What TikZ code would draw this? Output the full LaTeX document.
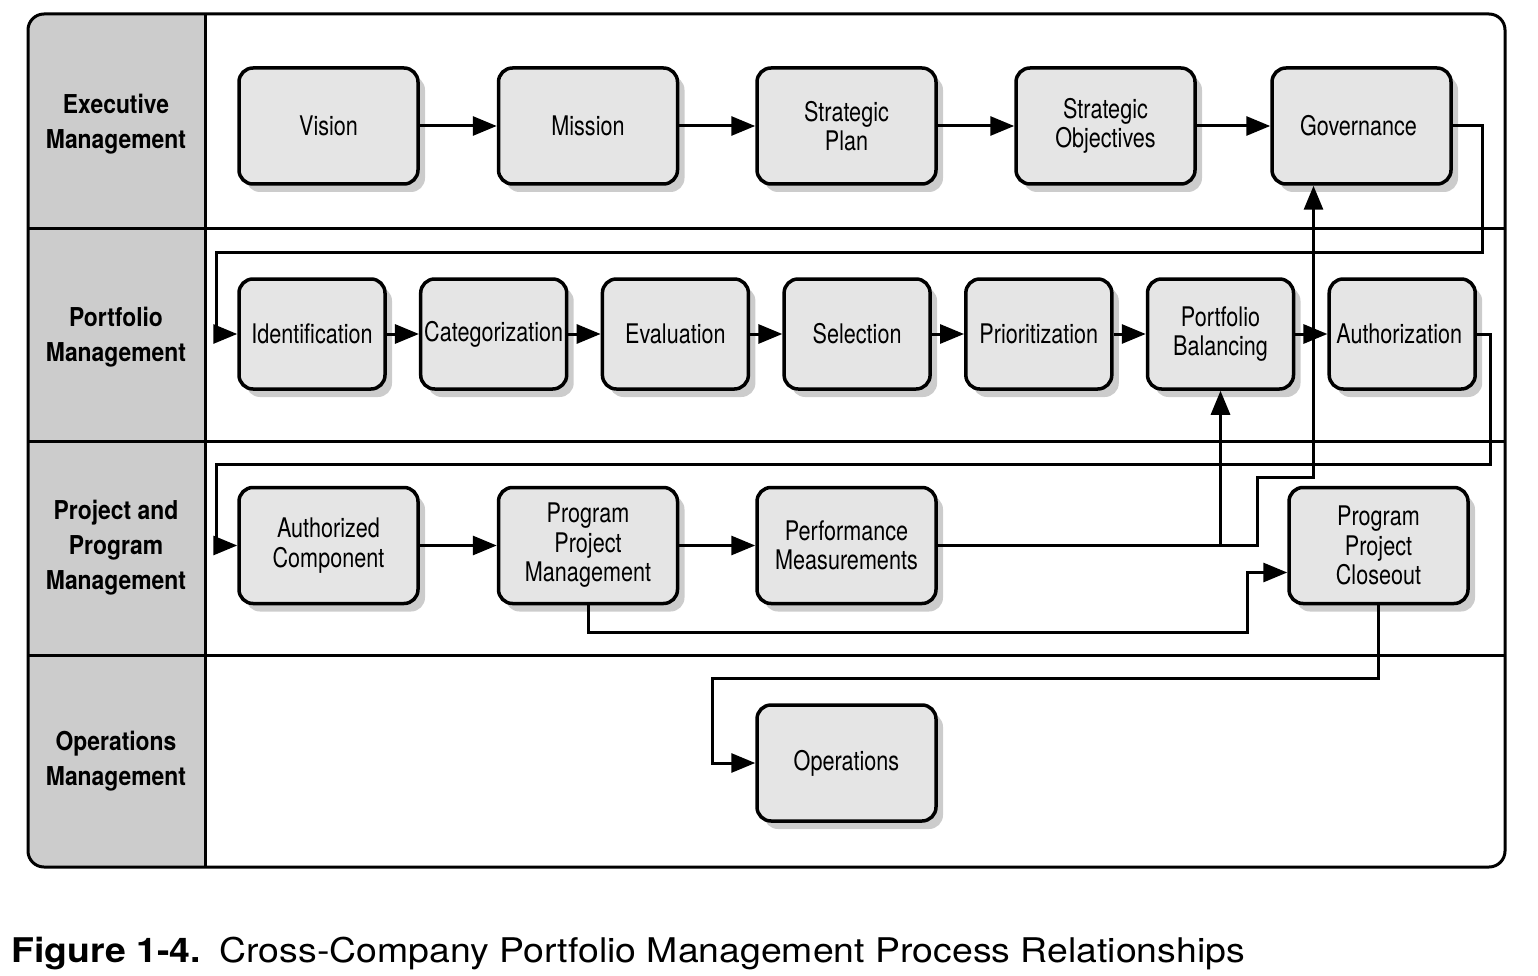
\documentclass[tikz,border=0pt]{standalone}
\usepackage{fontspec}
\setmainfont{TeX Gyre Heros}[FakeStretch=0.8]
\newfontfamily\lanefont{TeX Gyre Heros}[FakeStretch=0.88]
\newfontfamily\captionfont{TeX Gyre Heros}[FakeStretch=1.1]
\usepackage{tikz}
\usetikzlibrary{arrows.meta}
\usetikzlibrary{shadows}
\usetikzlibrary{positioning}
\definecolor{boxgrey}{gray}{0.9}
\definecolor{lanegrey}{gray}{0.8}
\definecolor{shadegrey}{gray}{0.8}
\tikzset{basic box/.style={draw,
                           line width=3.5pt,
                           rounded corners=14pt,
                           fill=boxgrey,
                           align=center,
                           font=\fontsize{27}{29.5}\selectfont,
                           drop shadow={shadow xshift=7pt,shadow yshift=-8pt,fill=shadegrey,opacity=1}}}
\tikzset{big box/.style={basic box,minimum width=179pt,minimum height=116pt}}
\tikzset{small box/.style={basic box,minimum width=146pt,minimum height=110pt}}
\tikzset{edge/.style={draw,
                      line width=3pt,
                      -{Triangle[length=24pt,width=19pt]}}}
\tikzset{lane label/.style={align=center,font=\lanefont\bfseries\fontsize{26}{35}\selectfont}}

\begin{document}
\begin{tikzpicture}
      [
      x=1pt,y=-1pt,
      frame line/.style={line width=3pt},
      ]
      \useasboundingbox (0,0) rectangle (1538,976);

      % lanes
      \begin{scope}
      \clip (28,14) rectangle (205,867);
      \fill [lanegrey,rounded corners=16pt] (28,14) rectangle (1505,867);
      \end{scope}
      \draw [frame line,rounded corners=16pt] (28,14) rectangle (1505,867);
      \draw [frame line] (205,14) -- (205,867);
      \foreach \y in {229,441,655}
      {
      \draw [frame line] (28,\y) -- (1505,\y);
      }

      \node [lane label] (exec) at (116,124) {Executive\\Management};
      \node [lane label] (port) at (116,337) {Portfolio\\Management};
      \node [lane label] (proj) at (116,548) {Project and\\Program\\Management};
      \node [lane label] (oper) at (116,761) {Operations\\Management};

      % vertices
      \foreach \n/\x/\l in
      {
      vision/328.5/Vision,
      mission/588/Mission,
      plan/846.5/Strategic\\Plan,
      objectives/1105.5/Strategic\\Objectives,
      gov/1361.5/Governance
      }
      {
      \node [big box] (\n) at (\x,126) {\l};
      }

      \foreach \n/\i/\l [evaluate=\i as \x using 312+\i*181.7] in
      {
      ident/0/Identification,
      categ/1/Categorization,
      evalu/2/Evaluation,
      selec/3/Selection,
      prior/4/Prioritization,
      balance/5/Portfolio\\Balancing,
      author/6/Authorization
      }
      {
      \node [small box] (\n) at (\x,334) {\l};
      }

      \node [big box] (component) at (328.5,545.5) {Authorized\\Component};
      \node [big box] (ppm) at (588,545.5) {Program\\Project\\Management};
      \node [big box] (perf) at (846.5,545.5) {Performance\\Measurements};
      \node [big box] (closeout) at (1378.5,545.5) {Program\\Project\\Closeout};
      \node [big box] (ops) at (846.5,763) {Operations};

      % edges
      \foreach \a/\b in {vision/mission,mission/plan,plan/objectives,objectives/gov,
                         ident/categ,categ/evalu,evalu/selec,selec/prior,prior/balance,balance/author,
                         component/ppm,ppm/perf}
      {
      \path [edge] (\a.east) -- (\b.west);
      }

      \path [edge] (gov.east) -| (1482,253) -| (216,334) -- (ident.west);

      \path [edge] (author.east) -| (1490,464) -| (216,545.5) -- (component.west);

      \path [edge] (perf.east) -| (balance.south);

      \path [edge] (perf.east) -| (1257,477) -| ([xshift=-48pt]gov.south);

      \path [edge] (ppm.south) |- (1247,632) |- ([yshift=-27pt]closeout.west);

      \path [edge] (closeout.south) |- (712,678) |- (ops.west);

      % caption
      \node [anchor=base west,font=\captionfont\fontsize{34}{40}\selectfont] (caption) at (8,962)
      {\textbf{Figure 1-4.}\hspace{5pt} Cross-Company Portfolio Management Process Relationships};

    \end{tikzpicture}
\end{document}
